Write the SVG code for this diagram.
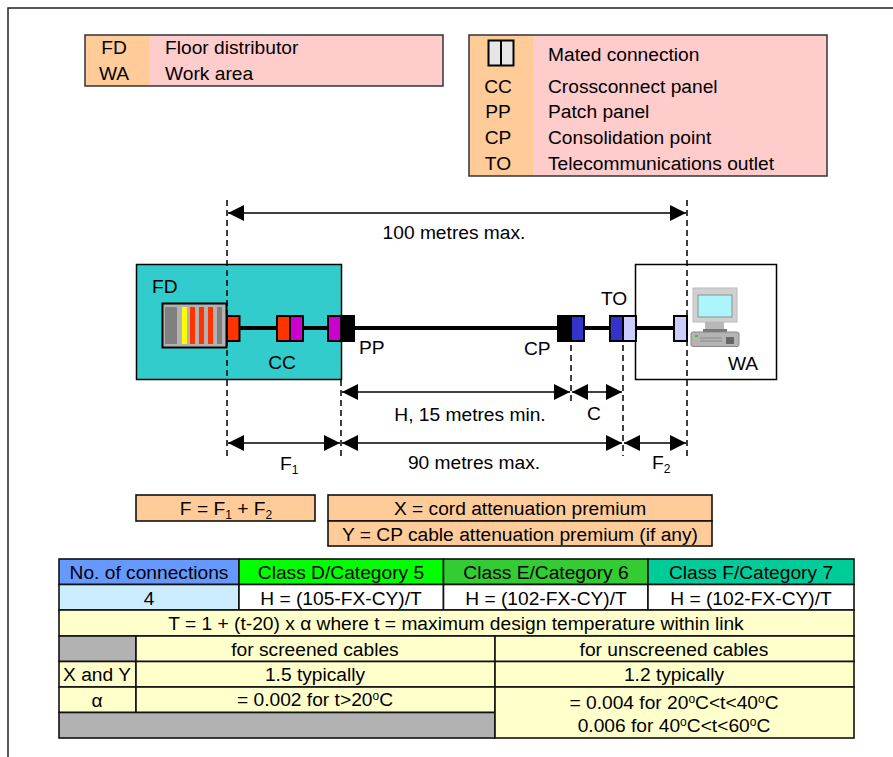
<svg xmlns="http://www.w3.org/2000/svg" width="893" height="757" viewBox="0 0 893 757">
<style>
text{font-family:"Liberation Sans",Arial,sans-serif;font-size:19.2px;fill:#000}
.m{text-anchor:middle}
.b{stroke:#111;stroke-width:1.600}
.d{stroke:#000;stroke-width:1.500;stroke-dasharray:6 4;fill:none}
.a{stroke:#000;stroke-width:1.500;fill:none;marker-start:url(#ah);marker-end:url(#ah)}
.s{font-size:12px}
.o{fill:#ffcc99}.p{fill:#ffcccc}.y{fill:#ffffcc}.g{fill:#b2b2b2}
</style>
<defs>
<marker id="ah" markerUnits="userSpaceOnUse" markerWidth="16" markerHeight="16" refX="16" refY="8" orient="auto-start-reverse" viewBox="0 0 16 16"><path d="M0 0L16 8L0 16Z" fill="#000"/></marker>
</defs>
<path d="M8 757V8H893" fill="none" stroke="#222" stroke-width="1.500"/>
<g id="legend-left">
<rect x="85" y="35" width="358" height="51" class="p"/>
<rect x="85" y="35" width="64" height="51" class="o"/>
<rect x="85" y="35" width="358" height="51" fill="none" stroke="#333" stroke-width="1.500"/>
<text x="114" y="54" class="m">FD</text><text x="165" y="54">Floor distributor</text>
<text x="114" y="80" class="m">WA</text><text x="165" y="80">Work area</text>
</g>
<g id="legend-right">
<rect x="469" y="35" width="358" height="141" class="p"/>
<rect x="469" y="35" width="64" height="141" class="o"/>
<rect x="469" y="35" width="358" height="141" fill="none" stroke="#333" stroke-width="1.500"/>
<rect x="488.500" y="40.500" width="25" height="25" fill="#e6e6e6" stroke="#000" stroke-width="2"/><path d="M501 40V66" stroke="#000" stroke-width="2"/>
<text x="548" y="61">Mated connection</text>
<text x="498" y="93" class="m">CC</text><text x="548" y="93">Crossconnect panel</text>
<text x="498" y="118" class="m">PP</text><text x="548" y="118">Patch panel</text>
<text x="498" y="144" class="m">CP</text><text x="548" y="144">Consolidation point</text>
<text x="498" y="170" class="m">TO</text><text x="548" y="170">Telecommunications outlet</text>
</g>
<g id="fd-box">
<rect x="136.500" y="264.500" width="205" height="115" fill="#33cccc" stroke="#000" stroke-width="1.500"/>
<text x="152" y="293">FD</text>
<text x="282" y="369" class="m">CC</text>
</g>
<g id="wa-box">
<rect x="635.500" y="264.500" width="141" height="115" fill="#fff" stroke="#000" stroke-width="1.500"/>
<text x="743" y="370" class="m">WA</text>
</g>
<g id="connectors">
<path d="M240 328H277M303 328H328M354 328H558M584 328H610M636 328H674" stroke="#000" stroke-width="4" fill="none"/>
<path d="M227 200V456M341 380V456M571 345V403M623 345V456M687 200V456" class="d"/>
<path d="M228 213H686" class="a"/>
<path d="M342 392H570" class="a"/>
<path d="M572 392H622" class="a"/>
<path d="M228 443H340" class="a"/>
<path d="M342 443H622" class="a"/>
<path d="M624 443H686" class="a"/>
</g>
<g id="fd-rack">
<rect x="162.500" y="303.500" width="64" height="44" fill="#b2b2b2" stroke="#000" stroke-width="2"/>
<rect x="165" y="307" width="12" height="37" fill="#808080"/>
<rect x="182" y="307" width="5" height="37" fill="#ffff00"/>
<rect x="190" y="307" width="5" height="37" fill="#ff3300"/>
<rect x="199" y="307" width="5" height="37" fill="#ff3300"/>
<rect x="208" y="307" width="5" height="37" fill="#ff3300"/>
<rect x="217" y="307" width="5" height="37" fill="#808080"/>
</g>
<g id="connector-blocks" stroke="#000" stroke-width="2">
<rect x="227" y="316" width="12.500" height="25" fill="#ff3300"/>
<rect x="277" y="316" width="13" height="25" fill="#ff3300"/>
<rect x="290" y="316" width="13" height="25" fill="#cc00cc"/>
<rect x="328" y="316" width="13" height="25" fill="#cc00cc"/>
<rect x="341" y="316" width="13" height="25" fill="#000"/>
<rect x="558" y="316" width="13" height="25" fill="#000"/>
<rect x="571" y="316" width="13" height="25" fill="#3333cc"/>
<rect x="610" y="316" width="13" height="25" fill="#3333cc"/>
<rect x="623" y="316" width="13" height="25" fill="#ccccff"/>
<rect x="674" y="316" width="13" height="25" fill="#ccccff"/>
</g>
<g id="computer">
<rect x="693" y="288" width="44" height="34" fill="#d0d0d0" stroke="#bbb"/>
<rect x="698" y="295" width="34" height="22" fill="#aaf6fa" stroke="#8f8f8f"/>
<rect x="705" y="322" width="19" height="9" fill="#b8b8b8"/>
<rect x="703" y="329" width="24" height="3" fill="#777"/>
<rect x="691" y="332" width="48" height="14.500" rx="2" fill="#b4b4b4" stroke="#888"/>
<rect x="726" y="337" width="8" height="7" fill="#666"/>
<rect x="695" y="335" width="3" height="2" fill="#3c3"/>
<path d="M700 338H722M700 341H722" stroke="#8a8a8a"/>
</g>
<text x="359" y="354">PP</text>
<text x="524" y="355">CP</text>
<text x="601" y="305">TO</text>
<text x="454" y="239" class="m">100 metres max.</text>
<text x="470" y="421" class="m">H, 15 metres min.</text>
<text x="594" y="420" class="m">C</text>
<text x="280" y="470">F<tspan class="s" dy="4">1</tspan></text>
<text x="474" y="469" class="m">90 metres max.</text>
<text x="652" y="469">F<tspan class="s" dy="4">2</tspan></text>
<g id="formula-f">
<rect x="136" y="495" width="179" height="26" class="o b"/>
<text x="226" y="515" class="m">F = F<tspan class="s" dy="4">1</tspan><tspan dy="-4"> + F</tspan><tspan class="s" dy="4">2</tspan></text>
</g>
<g id="formula-xy">
<rect x="328" y="495" width="384" height="26" class="o b"/>
<rect x="328" y="521" width="384" height="25" class="o b"/>
<text x="520" y="515" class="m">X = cord attenuation premium</text>
<text x="520" y="541" class="m">Y = CP cable attenuation premium (if any)</text>
</g>
<g id="table">
<g class="b">
<rect x="59" y="559" width="180" height="25.500" fill="#6699ff"/>
<rect x="239" y="559" width="204.500" height="25.500" fill="#00ff00"/>
<rect x="443.500" y="559" width="204.500" height="25.500" fill="#33cc33"/>
<rect x="648" y="559" width="206" height="25.500" fill="#00cc99"/>
<rect x="59" y="584.500" width="180" height="25.500" fill="#ccecff"/>
<rect x="239" y="584.500" width="204.500" height="25.500" fill="#fff"/>
<rect x="443.500" y="584.500" width="204.500" height="25.500" fill="#fff"/>
<rect x="648" y="584.500" width="206" height="25.500" fill="#fff"/>
<rect x="59" y="610" width="795" height="26" class="y"/>
<rect x="59" y="636" width="77" height="25.500" class="g"/>
<rect x="136" y="636" width="359" height="25.500" class="y"/>
<rect x="495" y="636" width="359" height="25.500" class="y"/>
<rect x="59" y="661.500" width="77" height="25.500" class="y"/>
<rect x="136" y="661.500" width="359" height="25.500" class="y"/>
<rect x="495" y="661.500" width="359" height="25.500" class="y"/>
<rect x="59" y="687" width="77" height="25.500" class="y"/>
<rect x="136" y="687" width="359" height="25.500" class="y"/>
<rect x="59" y="712.500" width="436" height="25.500" class="g"/>
<rect x="495" y="687" width="359" height="51" class="y"/>
</g>
<text x="149" y="579" class="m">No. of connections</text>
<text x="341" y="579" class="m">Class D/Category 5</text>
<text x="546" y="579" class="m">Class E/Category 6</text>
<text x="751" y="579" class="m">Class F/Category 7</text>
<text x="149" y="605" class="m">4</text>
<text x="341" y="605" class="m">H = (105-FX-CY)/T</text>
<text x="546" y="605" class="m">H = (102-FX-CY)/T</text>
<text x="751" y="605" class="m">H = (102-FX-CY)/T</text>
<text x="456" y="630" class="m">T = 1 + (t-20) x α where t = maximum design temperature within link</text>
<text x="315" y="656" class="m">for screened cables</text>
<text x="674" y="656" class="m">for unscreened cables</text>
<text x="97" y="681" class="m">X and Y</text>
<text x="315" y="681" class="m">1.5 typically</text>
<text x="674" y="681" class="m">1.2 typically</text>
<text x="97" y="707" class="m">α</text>
<text x="315" y="706" class="m">= 0.002 for t&gt;20<tspan class="s" dy="-6">o</tspan><tspan dy="6">C</tspan></text>
<text x="674" y="709" class="m">= 0.004 for 20<tspan class="s" dy="-6">o</tspan><tspan dy="6">C&lt;t&lt;40</tspan><tspan class="s" dy="-6">o</tspan><tspan dy="6">C</tspan></text>
<text x="674" y="732" class="m">0.006 for 40<tspan class="s" dy="-6">o</tspan><tspan dy="6">C&lt;t&lt;60</tspan><tspan class="s" dy="-6">o</tspan><tspan dy="6">C</tspan></text>
</g>
</svg>
